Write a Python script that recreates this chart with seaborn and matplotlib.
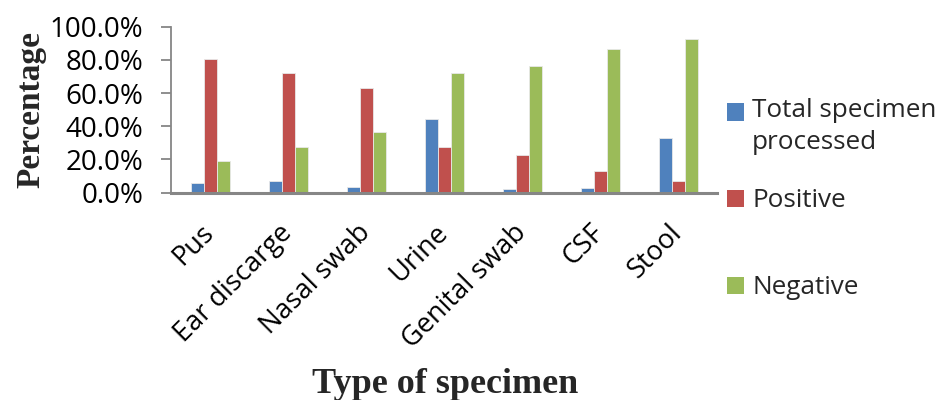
import matplotlib
matplotlib.use("Agg")
import matplotlib.pyplot as plt
import seaborn as sns
import pandas as pd
from matplotlib.ticker import PercentFormatter, MultipleLocator
from matplotlib.patches import Patch, Rectangle
from matplotlib.legend_handler import HandlerPatch

categories = ["Pus", "Ear discarge", "Nasal swab", "Urine", "Genital swab", "CSF", "Stool"]
total_processed = [0.058, 0.068, 0.034, 0.442, 0.022, 0.026, 0.331]
positive = [0.803, 0.721, 0.631, 0.277, 0.229, 0.131, 0.068]
negative = [0.191, 0.277, 0.365, 0.719, 0.765, 0.863, 0.926]
series_names = ["Total specimen\nprocessed", "Positive", "Negative"]
colors = ["#4F81BD", "#C0504D", "#9BBB59"]

rows = []
for name, vals in zip(series_names, [total_processed, positive, negative]):
    for c, v in zip(categories, vals):
        rows.append({"cat": c, "series": name, "value": v})
df = pd.DataFrame(rows)

sns.set_theme(style="white")
plt.rcParams['font.family'] = ['Open Sans', 'DejaVu Sans']

fig = plt.figure(figsize=(9.4, 4.0), dpi=100)
ax = fig.add_axes([171/940, 1 - 192.7/400, (717-171)/940, (192.7-26.7)/400])

sns.barplot(data=df, x="cat", y="value", hue="series", order=categories,
            hue_order=series_names, palette=colors, width=0.5, gap=0,
            edgecolor="#e8e8e8", linewidth=0.6, saturation=1, ax=ax, legend=False)

ax.set_ylim(0, 1.0)
ax.set_xlim(-0.5, len(categories) - 0.5)
ax.yaxis.set_major_locator(MultipleLocator(0.2))
ax.yaxis.set_major_formatter(PercentFormatter(xmax=1, decimals=1))

for s in ["top", "right"]:
    ax.spines[s].set_visible(False)
ax.spines["left"].set_color("#868686")
ax.spines["left"].set_linewidth(1.3)
ax.spines["bottom"].set_color("#868686")
ax.spines["bottom"].set_linewidth(2.2)

ax.tick_params(axis="y", left=True, length=7, width=1.3, color="#868686",
               pad=13, labelsize=20, labelcolor="black")
ax.tick_params(axis="x", bottom=False, length=0, pad=26, labelsize=19.5, labelcolor="black")
for lab in ax.get_xticklabels():
    lab.set_rotation(45)
    lab.set_ha("right")
    lab.set_va("center")
    lab.set_rotation_mode("anchor")

ax.set_xlabel("Type of specimen", family="Liberation Serif", fontweight="bold",
              fontsize=26, labelpad=0)
ax.xaxis.set_label_coords((445-171)/546, (192.7-368)/166)
ax.set_ylabel("Percentage", family="Liberation Serif", fontweight="bold", fontsize=24)
ax.yaxis.set_label_coords((46-171)/546, 0.5)


def shifted_square(legend, orig_handle, xdescent, ydescent, width, height, fontsize):
    return Rectangle((-xdescent, -ydescent - 3.6), width, height)


handles = [Patch(facecolor=c, edgecolor="none") for c in colors]
tops = [88, 178, 265]
for i, (h, lab, t) in enumerate(zip(handles, series_names, tops)):
    kw = {}
    if i == 0:
        kw["handler_map"] = {h: HandlerPatch(patch_func=shifted_square)}
    lg = fig.legend([h], [lab], loc="upper left",
                    bbox_to_anchor=(717/940, 1 - t/400), frameon=False,
                    fontsize=18.8, handlelength=0.65, handleheight=0.65,
                    handletextpad=0.3, borderaxespad=0, **kw)
    if i == 0:
        lg.texts[0].set_linespacing(1.35)
        try:
            lg._legend_handle_box.get_children()[0].get_children()[0].align = "top"
        except Exception:
            pass

fig.savefig("out.png", dpi=100)
